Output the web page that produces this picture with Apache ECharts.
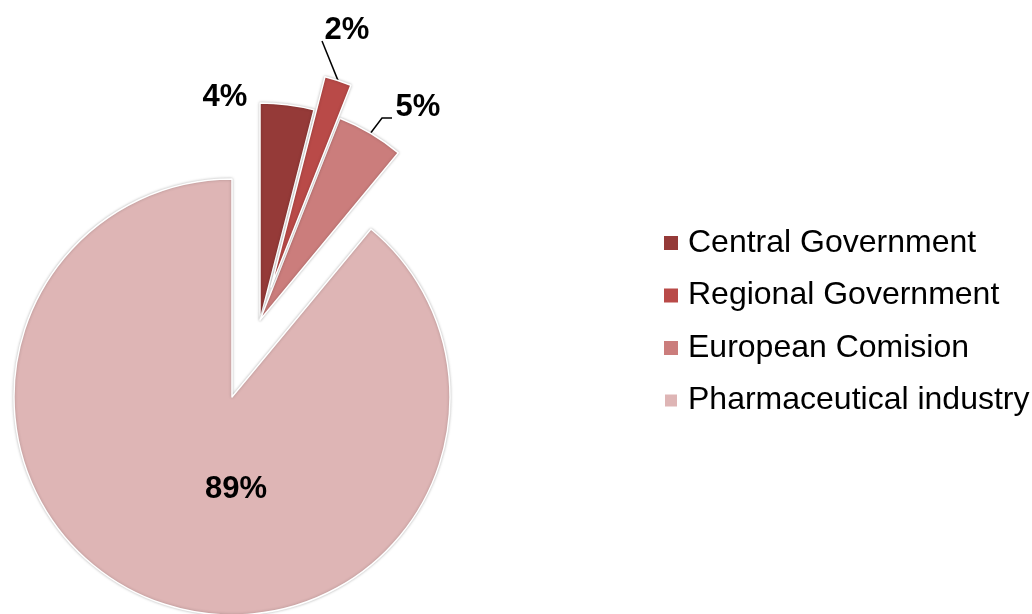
<!DOCTYPE html>
<html>
<head>
<meta charset="utf-8">
<script src="https://cdn.jsdelivr.net/npm/echarts@6/dist/echarts.min.js"></script>
<style>
    html, body { margin: 0; padding: 0; background: #fff; }
    #pieDiv { width: 1032px; height: 614px; }
</style>
</head>
<body>
<div id="pieDiv"></div>
<script>
// 数据
var names = ['Central Government', 'Regional Government', 'European Comision', 'Pharmaceutical industry'];
var values = [4, 2, 5, 89];
var colors = ['#953a38', '#b94a48', '#cb7d7c', '#deb5b5'];
var FONT = '"Liberation Sans", Arial, sans-serif';

// 只显示 visible 里的扇区, 其它透明占位, 保持角度一致
function buildData(visible) {
    var arr = [];
    for (var i = 0; i < names.length; i++) {
        var show = visible.indexOf(i) >= 0;
        var item = { name: names[i], value: values[i] };
        if (show) {
            item.itemStyle = { color: colors[i] };
        } else {
            item.itemStyle = { color: 'rgba(0,0,0,0)', borderWidth: 0, shadowBlur: 0 };
            item.label = { show: false };
            item.labelLine = { show: false };
        }
        arr.push(item);
    }
    return arr;
}

function labelStyle(position) {
    return {
        show: true,
        position: position,
        formatter: '{d}%',
        fontFamily: FONT,
        fontWeight: 'bold',
        fontSize: 31,
        color: '#000'
    };
}

var baseItemStyle = {
    borderColor: '#fff',
    borderWidth: 1.5,
    shadowBlur: 3,
    shadowColor: 'rgba(0,0,0,0.25)'
};
var lineStyle = { color: '#000', width: 1.5 };

function creatPie() {
    var bigData = buildData([3]);
    var smallData = buildData([0, 2]);
    smallData[0].labelLine = { show: false };
    var regData = buildData([1]);

    var legendData = [];
    for (var i = 0; i < names.length; i++) {
        legendData.push({ name: names[i], itemStyle: { color: colors[i] } });
    }

    var option = {
        animation: false,
        legend: {
            orient: 'vertical',
            left: 663,
            top: 227,
            padding: 0,
            icon: 'rect',
            itemWidth: 14,
            itemHeight: 14,
            itemGap: 20.5,
            selectedMode: false,
            textStyle: {
                fontFamily: FONT,
                fontSize: 32,
                lineHeight: 32,
                color: '#000',
                padding: [0, 0, 0, 5]
            },
            data: legendData
        },
        series: [{
            name: 'big',
            type: 'pie',
            center: [232, 397],
            radius: 218,
            startAngle: 90,
            avoidLabelOverlap: false,
            percentPrecision: 0,
            itemStyle: baseItemStyle,
            label: labelStyle('inside'),
            labelLayout: function () {
                return { x: 236, y: 489, align: 'center', verticalAlign: 'middle' };
            },
            data: bigData
        }, {
            name: 'small',
            type: 'pie',
            center: [260, 320],
            radius: 217,
            startAngle: 90,
            avoidLabelOverlap: false,
            percentPrecision: 0,
            itemStyle: baseItemStyle,
            label: labelStyle('outside'),
            labelLine: { show: true, length: 16, length2: 10, lineStyle: lineStyle },
            labelLayout: function (p) {
                if (p.dataIndex === 0) {
                    return { x: 225, y: 97, align: 'center', verticalAlign: 'middle' };
                }
                if (p.dataIndex === 2) {
                    var start = p.labelLinePoints ? p.labelLinePoints[0] : null;
                    var res = { x: 418, y: 107, align: 'center', verticalAlign: 'middle' };
                    if (start) res.labelLinePoints = [start, [382, 118], [392, 118]];
                    return res;
                }
            },
            data: smallData
        }, {
            name: 'regional',
            type: 'pie',
            center: [271, 287],
            radius: 217,
            startAngle: 90,
            avoidLabelOverlap: false,
            percentPrecision: 0,
            itemStyle: baseItemStyle,
            label: labelStyle('outside'),
            labelLine: { show: true, length: 30, length2: 0, lineStyle: lineStyle },
            labelLayout: function (p) {
                if (p.dataIndex === 1) {
                    var start = p.labelLinePoints ? p.labelLinePoints[0] : null;
                    var res = { x: 347, y: 30, align: 'center', verticalAlign: 'middle' };
                    if (start) res.labelLinePoints = [start, [322, 41], [322, 41]];
                    return res;
                }
            },
            data: regData
        }]
    };
    var pieChart = document.getElementById('pieDiv');
    var echart = echarts.init(pieChart);
    echart.setOption(option, true);
}

creatPie();
</script>
</body>
</html>
